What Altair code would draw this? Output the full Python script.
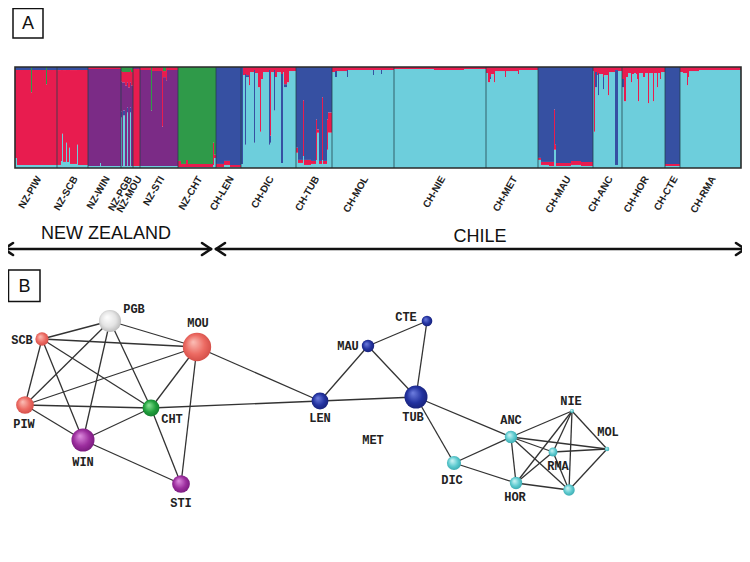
import altair as alt
import pandas as pd

# ------------------------------------------------------------------
# Panel A : admixture proportions (runs of individuals, bottom -> top)
# ------------------------------------------------------------------
CLUSTER_COLOR = {"R": "#e81c4f", "P": "#7b2b86", "G": "#2f9a49",
                 "B": "#3650a2", "C": "#6dcedc"}

POP_ORDER = ["NZ-PIW", "NZ-SCB", "NZ-WIN", "NZ-PGB", "NZ-MOU", "NZ-STI", "NZ-CHT",
             "CH-LEN", "CH-DIC", "CH-TUB", "CH-MOL", "CH-NIE", "CH-MET", "CH-MAU",
             "CH-ANC", "CH-HOR", "CH-CTE", "CH-RMA"]

RUNS = {
    "NZ-PIW": [(2, "C10 R87 B3"), (14, "C3 R94 B3"), (1, "C3 R72 G25"), (14, "C3 R94 B3"),
               (1, "C3 R80 G17"), (10, "C3 R94 B3")],
    "NZ-SCB": [(4, "C3 R94 B3"), (1, "C7 R90 B3"), (1, "C34 R63 B3"), (3, "C6 R91 B3"),
               (1, "C25 R72 B3"), (2, "C6 R91 B3"), (1, "C20 R77 B3"), (7, "C4 R93 B3"),
               (1, "C23 R74 B3"), (10, "C3 R94 B3")],
    "NZ-WIN": [(12, "C2 P96 R2"), (1, "C5 P93 R2"), (20, "C2 P96 R2")],
    "NZ-PGB": [(1, "C50 B6 P30 R10 G4"), (1, "C2 P83 R10 G5"), (2, "C52 B5 P28 R10 G5"),
               (2, "C2 P80 R13 G5"), (1, "C55 B5 P25 R10 G5"), (2, "C2 P78 R15 G5"),
               (1, "C55 B5 P25 R12 G3"), (2, "C2 P80 R13 G5")],
    "NZ-MOU": [(7, "C2 R96 P2")],
    "NZ-STI": [(11, "C2 P95 R3"), (1, "C2 P55 G43"), (10, "C2 P94 R4"), (1, "C2 P39 R59"),
               (3, "C2 P88 R6 G4"), (1, "C2 P85 R13"), (11, "C2 P95 R3")],
    "NZ-CHT": [(3, "C1 R6 G93"), (5, "C1 R3 G96"), (2, "C1 R7 G92"), (25, "C1 R3 G96"),
               (1, "C3 R22 G75"), (2, "C10 R3 G87")],
    "CH-LEN": [(8, "C1 R3 B96"), (6, "C3 R4 B93"), (11, "C1 R2 B97")],
    "CH-DIC": [(2, "C4 B96"), (2, "C92 R8"), (1, "C23 B70 R7"), (3, "C90 B2 R8"),
               (1, "C82 R18"), (4, "C95 R5"), (1, "C25 B72 R3"), (3, "C94 R6"),
               (2, "C80 R20"), (1, "C36 R64"), (2, "C88 R12"), (2, "C95 R5"),
               (4, "C95 R5"), (1, "C23 B74 R3"), (1, "C25 B7 R68"), (3, "C95 R5"),
               (1, "C57 B40 R3"), (2, "C90 R10"), (4, "C95 R5"), (2, "C5 B88 R7"),
               (1, "C95 R5"), (3, "C80 B3 R17"), (2, "C85 R15"), (7, "C96 R4")],
    "CH-TUB": [(2, "C15 R5 B80"), (5, "C5 R3 B92"), (1, "C12 R55 B33"), (7, "C3 R5 B92"),
               (5, "C4 R3 B93"), (1, "C8 R40 B52"), (2, "C35 R3 B62"), (3, "C4 R3 B93"),
               (1, "C8 R62 B30"), (4, "C4 R3 B93"), (1, "C18 R30 B52"), (4, "C35 R20 B45")],
    "CH-MOL": [(3, "C95 R5"), (2, "C90 B6 R4"), (10, "C96 R4"), (1, "C90 B7 R3"),
               (25, "C97 R3"), (1, "C92 B5 R3"), (7, "C97 R3"), (1, "C93 B4 R3"),
               (12, "C97 R3")],
    "CH-NIE": [(40, "C98 R2"), (30, "C97 R3"), (22, "C98 R2")],
    "CH-MET": [(2, "C94 R6"), (2, "C85 R15"), (1, "C88 B2 R10"), (3, "C93 R7"),
               (1, "C85 R15"), (10, "C96 R4"), (1, "C90 R10"), (12, "C96 R4"),
               (1, "C93 R7"), (19, "C97 R3")],
    "CH-MAU": [(3, "C8 R2 B90"), (8, "C3 R3 B94"), (5, "C2 R4 B94"), (1, "C18 R40 B42"),
               (1, "C18 R5 B77"), (15, "C2 R3 B95"), (10, "C3 R4 B93"), (12, "C2 R4 B94")],
    "CH-ANC": [(1, "C96 R4"), (1, "C36 R64"), (2, "C80 B15 R5"), (1, "C92 R8"),
               (1, "C72 B22 R6"), (4, "C93 R7"), (1, "C78 B12 R10"), (4, "C92 R8"),
               (1, "C72 R28"), (6, "C95 R5"), (3, "C3 B94 R3"), (4, "C96 R4")],
    "CH-HOR": [(2, "C80 B8 R12"), (2, "C66 R34"), (2, "C90 R10"), (3, "C94 R6"),
               (1, "C85 R15"), (2, "C93 R7"), (2, "C94 R6"), (1, "C93 R7"), (1, "C88 R12"),
               (1, "C66 R34"), (4, "C94 R6"), (2, "C90 R10"), (3, "C94 R6"), (1, "C64 R36"),
               (4, "C94 R6"), (1, "C66 R34"), (3, "C94 R6"), (1, "C80 R20"), (2, "C94 R6"),
               (1, "C88 R12"), (4, "C95 R5")],
    "CH-CTE": [(15, "C2 R2 B96")],
    "CH-RMA": [(3, "C95 R5"), (4, "C94 R6"), (1, "C82 R18"), (1, "C90 R10"),
               (10, "C96 R4"), (42, "C97 R3")],
}

# ------------------------------------------------------------------
# Panel B : network
# ------------------------------------------------------------------
NODE_NAMES = ["PGB", "SCB", "MOU", "PIW", "CHT", "WIN", "STI", "LEN", "MAU", "CTE",
              "TUB", "DIC", "ANC", "HOR", "RMA", "NIE", "MOL", "MET"]
NODE_X = [110, 42, 197, 25, 151, 83, 181, 320, 368, 427, 416, 454, 511, 516, 553, 572, 607, 569]
NODE_Y = [321, 339, 347, 405, 408, 440, 484, 401, 346, 321, 397, 463, 437, 483, 452, 411, 449, 490]
NODE_R = [12.5, 7.5, 16, 10, 9.5, 13, 10, 9.5, 7, 6, 13, 8, 7, 7, 5, 2.2, 2.6, 6.5]
NODE_GROUP = ["white", "red", "red", "red", "green", "purple", "purple", "navy", "navy",
              "navy", "navy", "cyan", "cyan", "cyan", "cyan", "cyan", "cyan", "cyan"]
EDGES = [("SCB", "PGB"), ("PGB", "MOU"), ("SCB", "MOU"), ("SCB", "PIW"), ("SCB", "WIN"),
         ("SCB", "CHT"), ("PGB", "PIW"), ("PGB", "WIN"), ("PGB", "CHT"), ("PIW", "MOU"),
         ("PIW", "CHT"), ("PIW", "WIN"), ("WIN", "CHT"), ("WIN", "STI"), ("MOU", "CHT"),
         ("MOU", "STI"), ("CHT", "STI"), ("MOU", "LEN"), ("CHT", "LEN"), ("LEN", "MAU"),
         ("LEN", "TUB"), ("MAU", "CTE"), ("MAU", "TUB"), ("CTE", "TUB"), ("TUB", "ANC"),
         ("TUB", "DIC"), ("DIC", "ANC"), ("DIC", "HOR"), ("ANC", "NIE"), ("ANC", "MOL"),
         ("ANC", "RMA"), ("ANC", "HOR"), ("ANC", "MET"), ("NIE", "HOR"), ("NIE", "RMA"),
         ("NIE", "MET"), ("NIE", "MOL"), ("HOR", "RMA"), ("HOR", "MET"), ("RMA", "MOL"),
         ("RMA", "MET"), ("MOL", "MET")]

# label placement (layout, not data)
LABEL_OFFSET = {"PGB": (24, -12), "MOU": (1, -24), "SCB": (-20, 1), "PIW": (-1, 19),
                "CHT": (21, 11), "WIN": (0, 22), "STI": (0, 19), "LEN": (0, 17),
                "MAU": (-20, 0), "CTE": (-21, -4), "TUB": (-3, 20), "DIC": (-2, 17),
                "ANC": (0, -17), "HOR": (-1, 14), "RMA": (5, 14), "NIE": (-1, -10),
                "MOL": (1, -17), "MET": (-196, -50)}

GROUP_GRAD = {
    "red": ("#fbc0b8", "#ec6a62", "#c9433e"),
    "white": ("#ffffff", "#e4e4e4", "#a9a9a9"),
    "green": ("#8fe69a", "#20a03c", "#10702a"),
    "purple": ("#df8ee0", "#9c2e9e", "#6b1370"),
    "navy": ("#6f7fe0", "#2232a0", "#141c6a"),
    "cyan": ("#d5f7f8", "#5ccacf", "#2f9da4"),
}

# ------------------------------------------------------------------
# Build tables
# ------------------------------------------------------------------
rect_rows, pop_rows = [], []
idx = 0
for pop in POP_ORDER:
    start = idx
    for n, comp in RUNS[pop]:
        parts = [(tok[0], float(tok[1:])) for tok in comp.split()]
        tot = sum(v for _, v in parts)
        acc = 0.0
        for cl, v in parts:
            rect_rows.append({"x0": idx, "x1": idx + n, "y0": acc / tot,
                              "y1": (acc + v) / tot, "cl": cl})
            acc += v
        idx += n
    pop_rows.append({"pop": pop, "start": start, "end": idx, "mid": (start + idx) / 2})
N_IND = idx
rects = pd.DataFrame(rect_rows)
pops = pd.DataFrame(pop_rows)
pops["lab_y"] = -0.09
pops["lab_x"] = pops["mid"] + 3
seps = pops.iloc[1:].copy()
seps["ya"] = 0.0
seps["yb"] = 1.0
frame = pd.DataFrame({"x0": [0], "x1": [N_IND], "y0": [0.0], "y1": [1.0]})

nodes = pd.DataFrame({"name": NODE_NAMES, "x": NODE_X, "y": NODE_Y, "r": NODE_R,
                      "group": NODE_GROUP})
pos = nodes.set_index("name")
edges = pd.DataFrame([{"x": pos.loc[a, "x"], "y": pos.loc[a, "y"],
                       "x2": pos.loc[b, "x"], "y2": pos.loc[b, "y"]} for a, b in EDGES])
labels = nodes.copy()
labels["lx"] = [x + LABEL_OFFSET[n][0] for n, x in zip(labels["name"], labels["x"])]
labels["ly"] = [y + LABEL_OFFSET[n][1] for n, y in zip(labels["name"], labels["y"])]

# ------------------------------------------------------------------
# Scales: panel A uses individual index / proportion, others page pixels
# ------------------------------------------------------------------
W, H = 734, 546
A_LEFT, A_TOP, A_BOTTOM = 15, 67, 168
pxA = (A_BOTTOM - A_TOP)
xA = alt.Scale(domain=[-(A_LEFT - 8), -(A_LEFT - 8) + W], nice=False, zero=False)
yA0 = -(554 - A_BOTTOM) / pxA
yA = alt.Scale(domain=[yA0, yA0 + H / pxA], nice=False, zero=False)
xP = alt.Scale(domain=[8, 8 + W], nice=False, zero=False)
yP = alt.Scale(domain=[8, 8 + H], reverse=True, nice=False, zero=False)

bars = alt.Chart(rects).mark_rect(strokeWidth=0).encode(
    x=alt.X("x0:Q", scale=xA, axis=None), x2="x1:Q",
    y=alt.Y("y0:Q", scale=yA, axis=None), y2="y1:Q",
    color=alt.Color("cl:N", scale=alt.Scale(domain=list(CLUSTER_COLOR.keys()),
                                            range=list(CLUSTER_COLOR.values())),
                    legend=None),
)
sep_lines = alt.Chart(seps).mark_rule(color="#1f3f48", strokeWidth=0.9, opacity=0.85).encode(
    x=alt.X("start:Q", scale=xA, axis=None),
    y=alt.Y("ya:Q", scale=yA, axis=None), y2="yb:Q",
)
border = alt.Chart(frame).mark_rect(fillOpacity=0, stroke="#2a2a2a", strokeWidth=1.6).encode(
    x=alt.X("x0:Q", scale=xA, axis=None), x2="x1:Q",
    y=alt.Y("y0:Q", scale=yA, axis=None), y2="y1:Q",
)
pop_text = alt.Chart(pops).mark_text(
    angle=300, align="right", baseline="middle", fontSize=10, fontWeight="bold",
    font="Liberation Sans", color="#1e1e1e",
).encode(
    x=alt.X("lab_x:Q", scale=xA, axis=None),
    y=alt.Y("lab_y:Q", scale=yA, axis=None),
    text="pop:N",
)

# Annotations (panel letters, region arrows)
boxes = pd.DataFrame({"x": [13, 8.5], "x2": [43, 40], "y": [8.5, 270], "y2": [38, 301.5]})
box_layer = alt.Chart(boxes).mark_rect(fillOpacity=0, stroke="#111", strokeWidth=1.5).encode(
    x=alt.X("x:Q", scale=xP, axis=None), x2="x2:Q",
    y=alt.Y("y:Q", scale=yP, axis=None), y2="y2:Q",
)
letters = pd.DataFrame({"x": [28, 24.5], "y": [24, 286.5], "t": ["A", "B"]})
letter_layer = alt.Chart(letters).mark_text(fontSize=18, font="Liberation Sans", color="#111",
                                            baseline="middle").encode(
    x=alt.X("x:Q", scale=xP, axis=None), y=alt.Y("y:Q", scale=yP, axis=None), text="t:N")
regions = pd.DataFrame({"x": [106, 480], "y": [234, 237], "t": ["NEW ZEALAND", "CHILE"]})
region_layer = alt.Chart(regions).mark_text(fontSize=18, font="Liberation Sans", color="#111",
                                            baseline="middle").encode(
    x=alt.X("x:Q", scale=xP, axis=None), y=alt.Y("y:Q", scale=yP, axis=None), text="t:N")
AY = 249
arrow_segs = pd.DataFrame([
    {"x": 4, "y": AY, "x2": 211, "y2": AY},
    {"x": 4, "y": AY, "x2": 13, "y2": AY - 6}, {"x": 4, "y": AY, "x2": 13, "y2": AY + 6},
    {"x": 211, "y": AY, "x2": 202, "y2": AY - 6}, {"x": 211, "y": AY, "x2": 202, "y2": AY + 6},
    {"x": 216, "y": AY, "x2": 745, "y2": AY},
    {"x": 216, "y": AY, "x2": 225, "y2": AY - 6}, {"x": 216, "y": AY, "x2": 225, "y2": AY + 6},
    {"x": 745, "y": AY, "x2": 736, "y2": AY - 6}, {"x": 745, "y": AY, "x2": 736, "y2": AY + 6},
])
arrow_layer = alt.Chart(arrow_segs).mark_rule(color="#111", strokeWidth=2.6, strokeCap="round").encode(
    x=alt.X("x:Q", scale=xP, axis=None), x2="x2:Q",
    y=alt.Y("y:Q", scale=yP, axis=None), y2="y2:Q",
)

edge_layer = alt.Chart(edges).mark_rule(color="#333333", strokeWidth=1.3).encode(
    x=alt.X("x:Q", scale=xP, axis=None), x2="x2:Q",
    y=alt.Y("y:Q", scale=yP, axis=None), y2="y2:Q",
)

size_scale = alt.Scale(type="pow", exponent=2, domain=[0, 16], range=[0, 3.1416 * 16 * 16])
node_layers = []
for g, (hi, mid, lo) in GROUP_GRAD.items():
    grad = alt.Gradient(gradient="radial", x1=0.36, y1=0.32, r1=0.0, x2=0.5, y2=0.5, r2=0.62,
                        stops=[alt.GradientStop(color=hi, offset=0),
                               alt.GradientStop(color=mid, offset=0.55),
                               alt.GradientStop(color=lo, offset=1)])
    node_layers.append(
        alt.Chart(nodes).transform_filter(alt.datum.group == g)
        .mark_circle(opacity=1, color=grad)
        .encode(x=alt.X("x:Q", scale=xP, axis=None),
                y=alt.Y("y:Q", scale=yP, axis=None),
                size=alt.Size("r:Q", scale=size_scale, legend=None))
    )

node_text = alt.Chart(labels).mark_text(fontSize=12, fontWeight="bold", font="Liberation Mono",
                                        color="#222", baseline="middle").encode(
    x=alt.X("lx:Q", scale=xP, axis=None), y=alt.Y("ly:Q", scale=yP, axis=None), text="name:N")

chart = alt.layer(
    bars, sep_lines, border, pop_text,
    box_layer, letter_layer, region_layer, arrow_layer,
    edge_layer, *node_layers, node_text,
).resolve_scale(x="independent", y="independent").properties(
    width=W, height=H, padding=0, autosize=alt.AutoSizeParams(type="none"),
    background="white",
).configure_view(strokeWidth=0)

chart.save("out.html", embed_options={"renderer": "svg", "actions": False})
